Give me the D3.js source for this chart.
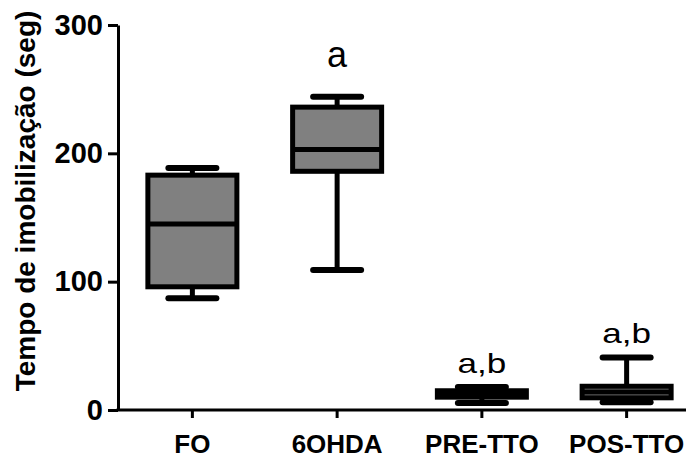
<!DOCTYPE html>
<html lang="en">
<head>
<meta charset="UTF-8">
<script src="https://d3js.org/d3.v7.min.js"></script>
<style>
    body, html { margin: 0; padding: 0; background: #fff; overflow: hidden; }
    svg { display: block; }
    svg text { font-family: 'Liberation Sans', Arial, sans-serif; }
</style>
</head>
<body>
<svg width="686" height="458"></svg>
<script>
// groups and their box-plot stats (seconds)
const groups = ["FO", "6OHDA", "PRE-TTO", "POS-TTO"];
const whiskerLow = [87, 109, 5.5, 6];
const q1 = [96, 186, 10, 9.5];
const medians = [145, 203, 13, 14];
const q3 = [183, 236, 15, 18.5];
const whiskerHigh = [188.5, 244, 18, 41];
const marks = ["", "a", "a,b", "a,b"];
const yTicks = [0, 100, 200, 300];

const svg = d3.select("svg");
const y = d3.scaleLinear().domain([0, 300]).range([410, 25]);
const x = d3.scaleBand().domain(groups).range([120, 699]);

const boxW = 89, capW = 48;

// y axis
const yAxis = svg.append("g").attr("transform", "translate(118,0)")
    .call(d3.axisLeft(y).tickValues(yTicks).tickSize(10).tickPadding(5).tickSizeOuter(0));
yAxis.attr("font-family", null);
yAxis.select(".domain").attr("stroke", "#000").attr("stroke-width", 3);
yAxis.selectAll(".tick line").attr("stroke", "#000").attr("stroke-width", 3);
yAxis.selectAll(".tick text").attr("font-size", 29).attr("font-weight", "bold").attr("fill", "#000");

// x axis
const xAxis = svg.append("g").attr("transform", "translate(0,410)")
    .call(d3.axisBottom(x).tickSize(8).tickSizeOuter(0));
xAxis.attr("font-family", null);
xAxis.select(".domain").attr("d", "M116.5,0H686").attr("stroke", "#000").attr("stroke-width", 3);
xAxis.selectAll(".tick line").attr("stroke", "#000").attr("stroke-width", 3);
xAxis.selectAll(".tick text").attr("y", 43).attr("dy", null)
    .attr("font-size", 26).attr("font-weight", "bold").attr("fill", "#000");

// axis title
svg.append("text")
    .attr("transform", "translate(35,201) rotate(-90)")
    .attr("text-anchor", "middle")
    .attr("font-size", 28).attr("font-weight", "bold")
    .text("Tempo de imobilização (seg)");

// boxes
const g = svg.append("g");
groups.forEach((name, i) => {
    const cx = x(name) + x.bandwidth() / 2;
    const grp = g.append("g").attr("stroke", "#000").attr("stroke-width", 5).attr("stroke-linecap", "round");
    // whiskers
    grp.append("line").attr("x1", cx).attr("x2", cx).attr("y1", y(whiskerHigh[i])).attr("y2", y(q3[i]));
    grp.append("line").attr("x1", cx).attr("x2", cx).attr("y1", y(whiskerLow[i])).attr("y2", y(q1[i]));
    grp.append("line").attr("x1", cx - capW / 2).attr("x2", cx + capW / 2)
        .attr("y1", y(whiskerHigh[i])).attr("y2", y(whiskerHigh[i])).attr("stroke-width", 6);
    grp.append("line").attr("x1", cx - capW / 2).attr("x2", cx + capW / 2)
        .attr("y1", y(whiskerLow[i])).attr("y2", y(whiskerLow[i])).attr("stroke-width", 6);
    // box
    grp.append("rect")
        .attr("x", cx - boxW / 2).attr("width", boxW)
        .attr("y", y(q3[i])).attr("height", y(q1[i]) - y(q3[i]))
        .attr("fill", "#808080").attr("stroke-linecap", "butt");
    grp.append("line").attr("x1", cx - boxW / 2).attr("x2", cx + boxW / 2)
        .attr("y1", y(medians[i])).attr("y2", y(medians[i])).attr("stroke-linecap", "butt");
    // significance letters
    if (marks[i]) {
        const single = marks[i].length === 1;
        const by = single ? 67 : y(whiskerHigh[i]) - 14;
        svg.append("text")
            .attr("transform", `translate(${cx},${by}) scale(${single ? 1 : 1.3},1)`)
            .attr("text-anchor", "middle").attr("font-size", single ? 36 : 27).attr("fill", "#000")
            .text(marks[i]);
    }
});
</script>
</body>
</html>
